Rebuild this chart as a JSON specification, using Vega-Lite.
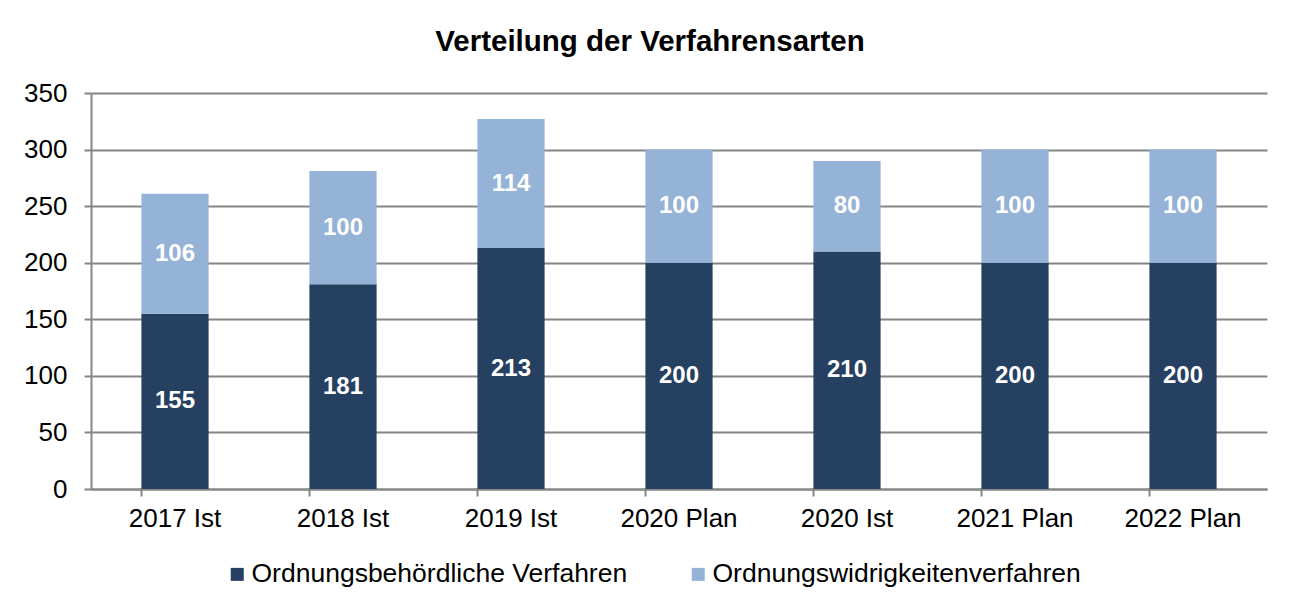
{
  "$schema": "https://vega.github.io/schema/vega-lite/v6.json",
  "width": 1176,
  "height": 396,
  "autosize": {"type": "none"},
  "padding": {"left": 91, "top": 93, "right": 29, "bottom": 121},
  "background": "white",
  "title": {
    "text": "Verteilung der Verfahrensarten",
    "font": "Liberation Sans",
    "fontSize": 29.5,
    "fontWeight": "bold",
    "color": "#000000",
    "anchor": "middle",
    "dx": -29,
    "offset": 23
  },
  "data": {
    "values": [
      {"jahr": "2017 Ist", "art": "Ordnungsbehördliche Verfahren", "wert": 155},
      {"jahr": "2017 Ist", "art": "Ordnungswidrigkeitenverfahren", "wert": 106},
      {"jahr": "2018 Ist", "art": "Ordnungsbehördliche Verfahren", "wert": 181},
      {"jahr": "2018 Ist", "art": "Ordnungswidrigkeitenverfahren", "wert": 100},
      {"jahr": "2019 Ist", "art": "Ordnungsbehördliche Verfahren", "wert": 213},
      {"jahr": "2019 Ist", "art": "Ordnungswidrigkeitenverfahren", "wert": 114},
      {"jahr": "2020 Plan", "art": "Ordnungsbehördliche Verfahren", "wert": 200},
      {"jahr": "2020 Plan", "art": "Ordnungswidrigkeitenverfahren", "wert": 100},
      {"jahr": "2020 Ist", "art": "Ordnungsbehördliche Verfahren", "wert": 210},
      {"jahr": "2020 Ist", "art": "Ordnungswidrigkeitenverfahren", "wert": 80},
      {"jahr": "2021 Plan", "art": "Ordnungsbehördliche Verfahren", "wert": 200},
      {"jahr": "2021 Plan", "art": "Ordnungswidrigkeitenverfahren", "wert": 100},
      {"jahr": "2022 Plan", "art": "Ordnungsbehördliche Verfahren", "wert": 200},
      {"jahr": "2022 Plan", "art": "Ordnungswidrigkeitenverfahren", "wert": 100}
    ]
  },
  "encoding": {
    "x": {
      "field": "jahr",
      "type": "nominal",
      "sort": null,
      "scale": {"paddingInner": 0.6, "paddingOuter": 0.3},
      "axis": {
        "title": null,
        "labelAngle": 0,
        "labelFont": "Liberation Sans",
        "labelFontSize": 26,
        "labelColor": "#000000",
        "labelPadding": 9,
        "bandPosition": 0,
        "tickSize": 7,
        "tickColor": "#868686",
        "tickWidth": 2,
        "domainColor": "#868686",
        "domainWidth": 2,
        "grid": false
      }
    },
    "y": {
      "field": "wert",
      "type": "quantitative",
      "stack": "zero",
      "scale": {"domain": [0, 350], "nice": false},
      "axis": {
        "title": null,
        "values": [0, 50, 100, 150, 200, 250, 300, 350],
        "labelFont": "Liberation Sans",
        "labelFontSize": 26,
        "labelColor": "#000000",
        "labelPadding": 17,
        "tickSize": 7,
        "tickColor": "#868686",
        "tickWidth": 2,
        "domainColor": "#868686",
        "domainWidth": 2,
        "grid": true,
        "gridColor": "#868686",
        "gridWidth": 2
      }
    },
    "order": {"field": "art", "sort": "ascending"}
  },
  "layer": [
    {
      "mark": {"type": "bar"},
      "encoding": {
        "color": {
          "field": "art",
          "type": "nominal",
          "scale": {
            "domain": ["Ordnungsbehördliche Verfahren", "Ordnungswidrigkeitenverfahren"],
            "range": ["#264061", "#95B3D7"]
          },
          "legend": {
            "title": null,
            "orient": "none",
            "legendX": 133,
            "legendY": 468,
            "direction": "horizontal",
            "symbolType": "square",
            "symbolSize": 169,
            "symbolStrokeWidth": 0,
            "labelFont": "Liberation Sans",
            "labelFontSize": 26.5,
            "labelColor": "#000000",
            "labelOffset": 1,
            "columnPadding": 57,
            "labelLimit": 600
          }
        }
      }
    },
    {
      "mark": {
        "type": "text",
        "color": "white",
        "font": "Liberation Sans",
        "fontSize": 24,
        "fontWeight": "bold",
        "baseline": "middle",
        "align": "center"
      },
      "encoding": {
        "y": {"field": "wert", "type": "quantitative", "stack": "zero", "bandPosition": 0.5},
        "text": {"field": "wert", "type": "quantitative"}
      }
    }
  ],
  "config": {
    "view": {"stroke": null}
  }
}
